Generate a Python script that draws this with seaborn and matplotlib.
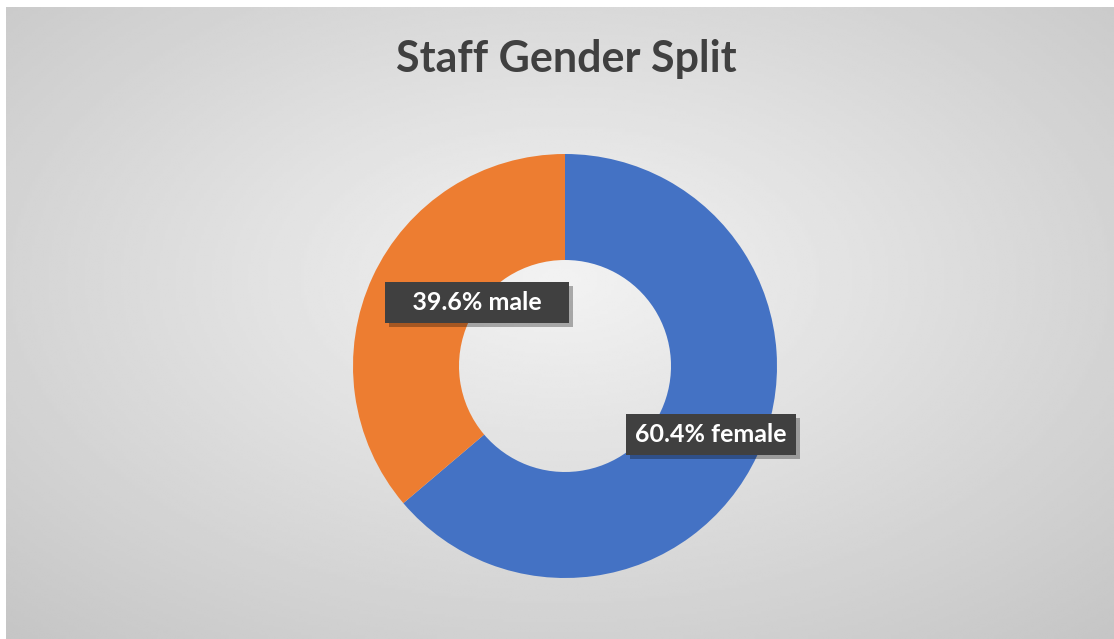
import numpy as np
import matplotlib
matplotlib.use("Agg")
import matplotlib.pyplot as plt
import matplotlib.patheffects as pe
import seaborn as sns

# data (slice sizes as drawn, label texts as printed on the chart)
categories = ["female", "male"]
shares = [63.8, 36.2]
label_texts = ["60.4% female", "39.6% male"]
colors = ["#4472C4", "#ED7D31"]
title = "Staff Gender Split"

sns.set_theme(style="white")
plt.rcParams["font.family"] = ["Lato", "DejaVu Sans"]

W, H = 1114, 639
fig = plt.figure(figsize=(W / 100, H / 100), dpi=100)
fig.patch.set_facecolor("white")
ax = fig.add_axes([0, 0, 1, 1])

# radial grey background of the chart panel
gx, gy = np.meshgrid(np.linspace(6, W, 400), np.linspace(0, 632, 240))
r = np.sqrt(((gx - 560) / 560) ** 2 + ((gy - 360) / 330) ** 2)
shade = np.clip(0.95 - 0.12 * r, 0, 1)
ax.imshow(shade, cmap="gray", vmin=0, vmax=1, extent=[6, W, 0, 632],
          origin="lower", aspect="auto", zorder=0, interpolation="bilinear")

# donut
ax.pie(shares, colors=colors, startangle=90, counterclock=False,
       center=(565, 273), radius=212, frame=True,
       wedgeprops=dict(width=106, edgecolor="none"))
ax.set_xlim(0, W)
ax.set_ylim(0, H)
ax.set_aspect("auto")
ax.axis("off")

ax.text(566, 580, title, ha="center", va="center", fontsize=31,
        fontweight="bold", color="#404040")

# data labels
label_pos = [(711, 205), (477, 337)]
pads = ["", "   "]
for (x, y), t, p in zip(label_pos, label_texts, pads):
    tx = ax.text(x, y, p + t + p, ha="center", va="center", fontsize=18,
                 fontweight="bold", color="white", zorder=5,
                 bbox=dict(boxstyle="square,pad=0.36", facecolor="#404040",
                           edgecolor="none"))
    tx.get_bbox_patch().set_path_effects(
        [pe.SimplePatchShadow(offset=(3, -3), shadow_rgbFace="black", alpha=0.3),
         pe.Normal()])

fig.savefig("out.png", dpi=100)
